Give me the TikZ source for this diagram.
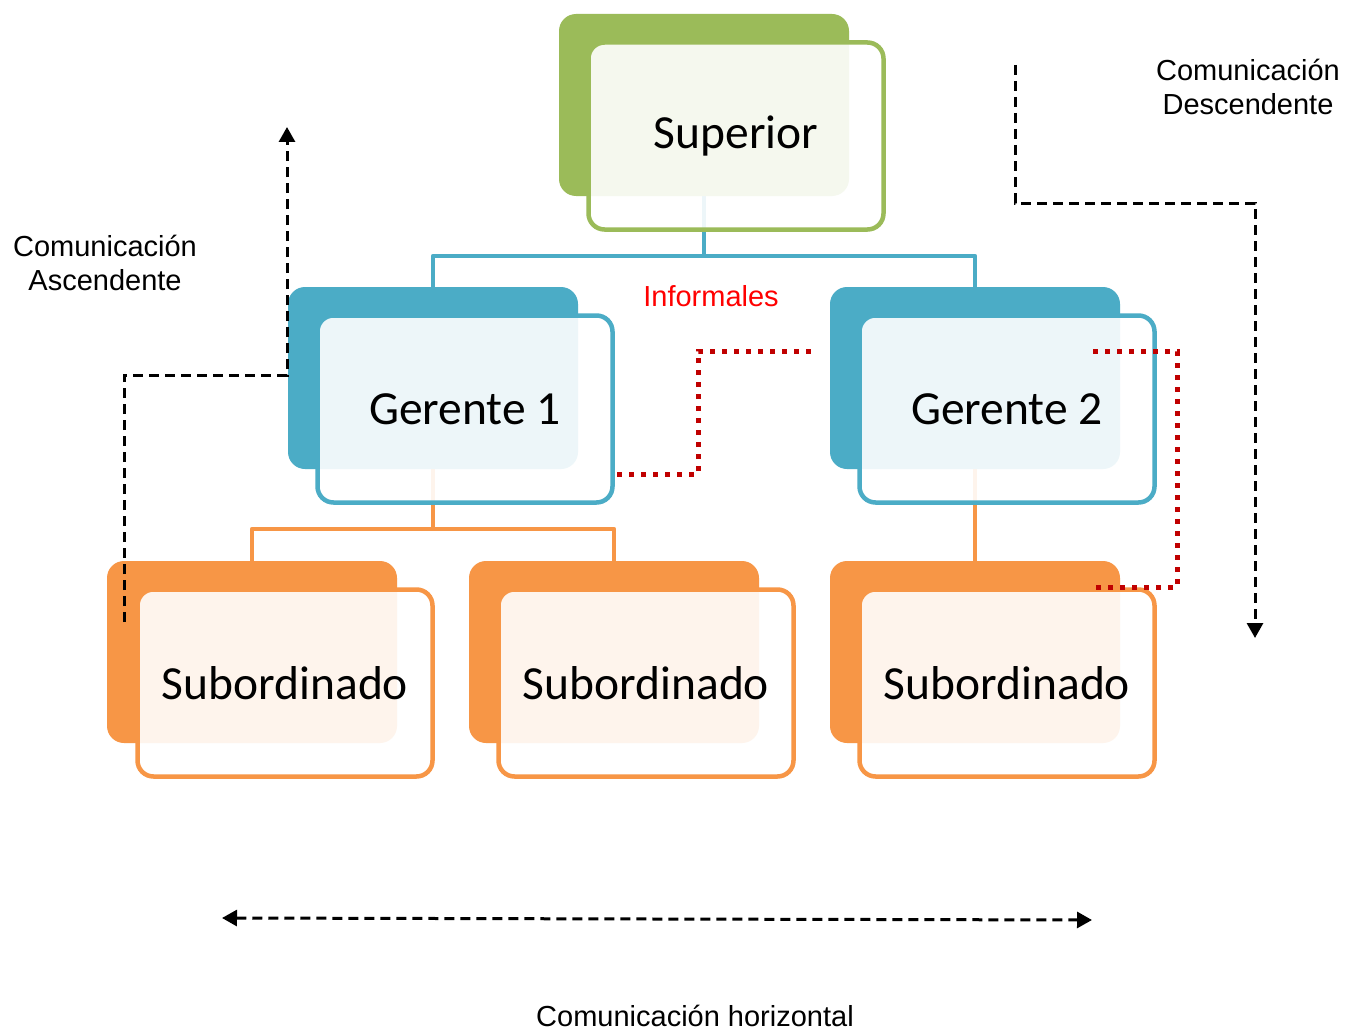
\documentclass[tikz,border=0pt]{standalone}
\usepackage{fontspec}
\setmainfont{Carlito}
\newfontfamily\arialf{Liberation Sans}
\usetikzlibrary{arrows.meta,backgrounds}
\definecolor{cgreen}{HTML}{9BBB59}
\definecolor{cblue}{HTML}{4BACC6}
\definecolor{corange}{HTML}{F79646}
\definecolor{cred}{HTML}{C00000}
\definecolor{labelred}{HTML}{FF0000}
\tikzset{
  backbox/.style={rounded corners=17pt, minimum width=290pt, minimum height=182pt, inner sep=0pt, draw=none},
  frontbox/.style={rounded corners=16pt, minimum width=295pt, minimum height=187pt, inner sep=0pt,
    line width=4.5pt, fill=white, fill opacity=0.9, text opacity=1, text=black,
    font=\fontsize{47.5}{56}\selectfont},
  conline/.style={line width=4.5pt, line join=round},
  dashcon/.style={line width=3pt, dash pattern=on 10pt off 6pt, black},
  redcon/.style={line width=5pt, dash pattern=on 5pt off 7pt, cred},
  lbl/.style={font=\arialf\fontsize{29}{34}\selectfont, align=center, inner sep=0pt}
}
\begin{document}
\begin{tikzpicture}[x=1pt,y=-1pt]
\useasboundingbox (0,0) rectangle (1357,1030);
\begin{scope}[on background layer]
\fill[white] (0,0) rectangle (1357,1030);
\end{scope}

% back boxes
\node[backbox, fill=cgreen]  (supb) at (704,105) {};
\node[backbox, fill=cblue]   (g1b)  at (433,378) {};
\node[backbox, fill=cblue]   (g2b)  at (975,378) {};
\node[backbox, fill=corange] (s1b)  at (252,652) {};
\node[backbox, fill=corange] (s2b)  at (614,652) {};
\node[backbox, fill=corange] (s3b)  at (975,652) {};

% front boxes
\node[frontbox, draw=cgreen]  (sup) at (736,136) {Superior};
\node[frontbox, draw=cblue]   (g1)  at (465,409) {Gerente 1};
\node[frontbox, draw=cblue]   (g2)  at (1007,409) {Gerente 2};
\node[frontbox, draw=corange] (s1)  at (285,683) {Subordinado};
\node[frontbox, draw=corange] (s2)  at (646,683) {Subordinado};
\node[frontbox, draw=corange] (s3)  at (1007,683) {Subordinado};

% tree connectors (behind the boxes)
\coordinate (bj) at (704,256);
\coordinate (oj) at (433,529);
\begin{scope}[on background layer]
\draw[conline, cblue] (supb.south) -- (bj);
\draw[conline, cblue] (g1b.north) |- (bj) -| (g2b.north);
\draw[conline, corange] (g1b.south) -- (oj);
\draw[conline, corange] (s1b.north) |- (oj) -| (s2b.north);
\draw[conline, corange] (g2b.south) -- (s3b.north);
\end{scope}

% labels
\node[lbl] (lasc) at (105,263) {Comunicación\\Ascendente};
\node[lbl] (ldes) at (1248,87) {Comunicación\\Descendente};
\node[lbl, text=labelred] (linf) at (711,296) {Informales};
\node[lbl] (lhor) at (695,1016) {Comunicación horizontal};

% ascending
\coordinate (a0) at (124,622);
\coordinate (a2) at (287,375);
\coordinate (a3) at (287,127);
\draw[dashcon, -{Triangle[width=16pt,length=15pt]}] (a0) |- (a2) -- (a3);

% descending
\coordinate (d0) at (1015,65);
\coordinate (d1) at (1255,203);
\coordinate (d2) at (1255,638);
\draw[dashcon, -{Triangle[width=16pt,length=15pt]}] (d0) |- (d1) -- (d2);

% horizontal
\coordinate (h0) at (222,918);
\coordinate (h1) at (1092,920);
\draw[dashcon, {Triangle[width=16pt,length=15pt]}-{Triangle[width=16pt,length=15pt]}] (h0) -- (h1);

% informal
\coordinate (r0) at (617,474);
\coordinate (r1) at (698,351);
\coordinate (r2) at (812,351);
\draw[redcon] (r0) -| (r1) -- (r2);
\coordinate (r3) at (1093,351);
\coordinate (r4) at (1177,587);
\coordinate (r5) at (1093,587);
\draw[redcon] (r3) -| (r4) -- (r5);
\end{tikzpicture}
\end{document}
